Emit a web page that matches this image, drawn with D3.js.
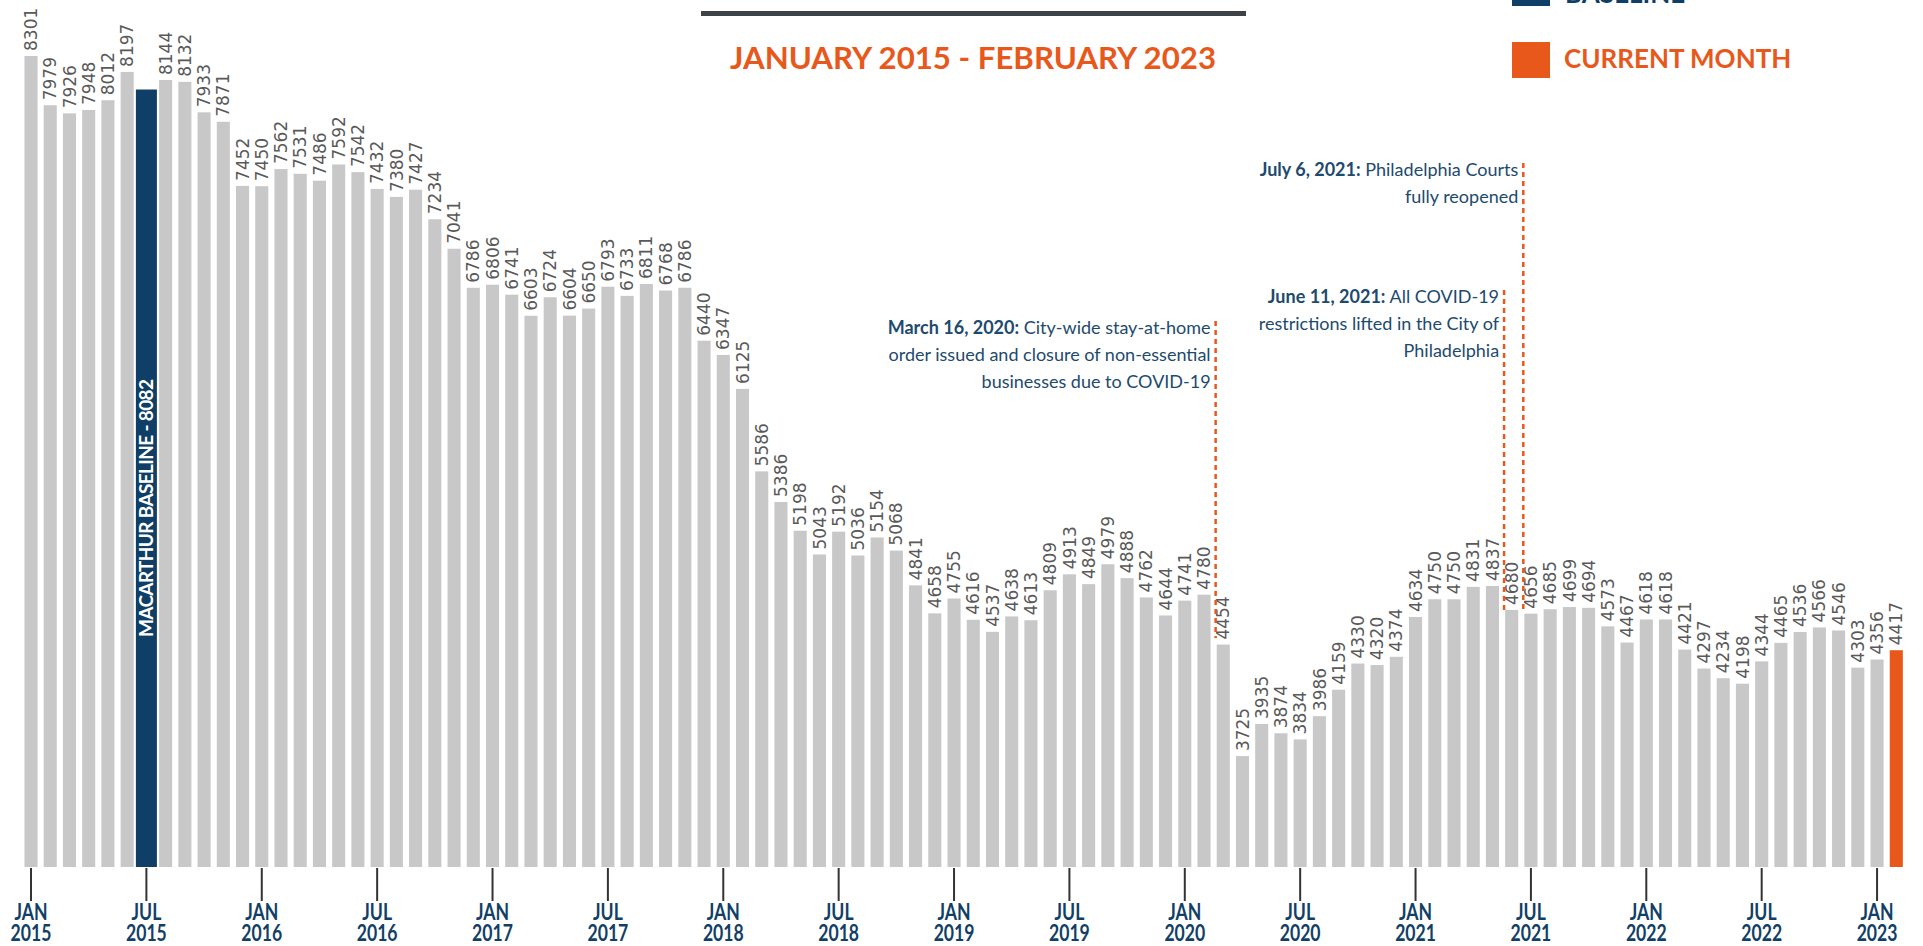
<!DOCTYPE html>
<meta charset="utf-8">
<style>
html, body {
  margin: 0;
  overflow: hidden;
  width: 100%;
  height: 100%;
  background: #fff;
}
text {
  font-family: Lato, "Open Sans", sans-serif;
}
.value {
  font-family: "DejaVu Sans", sans-serif;
  font-size: 17px;
  fill: #595959;
}
.note {
  font-size: 18px;
  fill: #1d4a6e;
}
.tick-label {
  font-weight: 700;
  font-size: 22px;
  fill: #123f66;
}
</style>
<title>Philadelphia jail population</title>
<body>
<script src="https://cdn.jsdelivr.net/npm/d3@7"></script>
<script>
// monthly values, Jan 2015 - Feb 2023
var values2015 = [8301, 7979, 7926, 7948, 8012, 8197, 8082, 8144, 8132, 7933, 7871, 7452];
var values2016 = [7450, 7562, 7531, 7486, 7592, 7542, 7432, 7380, 7427, 7234, 7041, 6786];
var values2017 = [6806, 6741, 6603, 6724, 6604, 6650, 6793, 6733, 6811, 6768, 6786, 6440];
var values2018 = [6347, 6125, 5586, 5386, 5198, 5043, 5192, 5036, 5154, 5068, 4841, 4658];
var values2019 = [4755, 4616, 4537, 4638, 4613, 4809, 4913, 4849, 4979, 4888, 4762, 4644];
var values2020 = [4741, 4780, 4454, 3725, 3935, 3874, 3834, 3986, 4159, 4330, 4320, 4374];
var values2021 = [4634, 4750, 4750, 4831, 4837, 4680, 4656, 4685, 4699, 4694, 4573, 4467];
var values2022 = [4618, 4618, 4421, 4297, 4234, 4198, 4344, 4465, 4536, 4566, 4546, 4303];
var values2023 = [4356, 4417];

var tickMonths = ["JAN", "JUL"];
var tickYears = ["2015", "2016", "2017", "2018", "2019", "2020", "2021", "2022", "2023"];

var baselineIndex = 6,   // Jul 2015
    baselineLabel = "MACARTHUR BASELINE - 8082";

// events: dashed line sits between bar i-1 and bar i
var events = [
  {i: 62, top: 321, bottom: 638, bold: "March 16, 2020:",
   lines: [" City-wide stay-at-home", "order issued and closure of non-essential", "businesses due to COVID-19"]},
  {i: 77, top: 290, bottom: 610, bold: "June 11, 2021:",
   lines: [" All COVID-19", "restrictions lifted in the City of", "Philadelphia"]},
  {i: 78, top: 163, bottom: 612, bold: "July 6, 2021:",
   lines: [" Philadelphia Courts", "fully reopened"]}
];

var values = [].concat(values2015, values2016, values2017, values2018, values2019,
                       values2020, values2021, values2022, values2023);

var width = 1923,
    height = 946,
    base = 867;

var grey = "#c8c8c8",
    navy = "#0f3f66",
    orange = "#e8581a";

var svg = d3.select("body").append("svg")
    .attr("width", width)
    .attr("height", height);

var x = d3.scaleBand()
    .domain(d3.range(values.length))
    .range([21.4, 1905.9])
    .paddingInner(0.32)
    .paddingOuter(0.16);

var y = d3.scaleLinear()
    .domain([3000, 8301])
    .range([base, 56]);

var bw = x.bandwidth();

function cx(i) { return x(i) + bw / 2; }

// bars
svg.append("g").selectAll("rect")
  .data(values)
  .enter().append("rect")
    .attr("x", function(d, i) { return i == baselineIndex ? cx(i) - 10.5 : x(i); })
    .attr("width", function(d, i) { return i == baselineIndex ? 21 : bw; })
    .attr("y", function(d) { return y(d); })
    .attr("height", function(d) { return base - y(d); })
    .attr("fill", function(d, i) {
      if (i == baselineIndex) return navy;
      if (i == values.length - 1) return orange;
      return grey;
    });

// value labels (none above the baseline bar)
var labelled = values.map(function(v, i) { return {v: v, i: i}; })
    .filter(function(d) { return d.i != baselineIndex; });

svg.append("g").selectAll("text")
  .data(labelled)
  .enter().append("text")
    .attr("class", "value")
    .attr("transform", function(d) { return "translate(" + cx(d.i) + "," + (y(d.v) - 5) + ") rotate(-90)"; })
    .attr("dy", "0.36em")
    .text(function(d) { return d.v; });

// baseline label inside the navy bar
svg.append("text")
    .attr("transform", "translate(" + cx(baselineIndex) + ",508) rotate(-90)")
    .attr("text-anchor", "middle")
    .attr("dy", "0.36em")
    .attr("fill", "#fff")
    .attr("font-weight", 700)
    .attr("font-size", "19px")
    .attr("textLength", 258)
    .attr("lengthAdjust", "spacing")
    .text(baselineLabel);

// x axis ticks every six months
var ticks = d3.range(0, values.length, 6);
var tg = svg.append("g").selectAll("g")
  .data(ticks)
  .enter().append("g");

tg.append("line")
    .attr("x1", function(d) { return cx(d); })
    .attr("x2", function(d) { return cx(d); })
    .attr("y1", base + 1)
    .attr("y2", 901)
    .attr("stroke", "#333")
    .attr("stroke-width", 2);

var lab = tg.append("text")
    .attr("class", "tick-label")
    .attr("text-anchor", "middle")
    .attr("transform", function(d) { return "translate(" + cx(d) + ",0) scale(0.8,1)"; });
lab.append("tspan")
    .attr("x", 0)
    .attr("y", 920)
    .text(function(d) { return tickMonths[(d / 6) % 2]; });
lab.append("tspan")
    .attr("x", 0)
    .attr("y", 941)
    .text(function(d) { return tickYears[Math.floor(d / 12)]; });

// event annotations
events.forEach(function(e) {
  var lx = (cx(e.i - 1) + cx(e.i)) / 2 + 2;
  svg.append("line")
      .attr("x1", lx).attr("x2", lx)
      .attr("y1", e.top).attr("y2", e.bottom)
      .attr("stroke", orange)
      .attr("stroke-width", 2.5)
      .attr("stroke-dasharray", "5,4");

  var t = svg.append("text")
      .attr("class", "note")
      .attr("text-anchor", "end");
  e.lines.forEach(function(line, k) {
    var ts = t.append("tspan")
        .attr("x", lx - 5)
        .attr("y", e.top + 13 + k * 27);
    if (k == 0) {
      ts.append("tspan").attr("font-weight", 700).text(e.bold);
      ts.append("tspan").text(line);
    } else {
      ts.text(line);
    }
  });
});

// heading
svg.append("rect")
    .attr("x", 701).attr("y", 11)
    .attr("width", 545).attr("height", 5)
    .attr("fill", "#3d4247");

svg.append("text")
    .attr("x", 973)
    .attr("y", 69)
    .attr("text-anchor", "middle")
    .attr("fill", orange)
    .attr("font-weight", 700)
    .attr("font-size", "30px")
    .attr("textLength", 486)
    .attr("lengthAdjust", "spacingAndGlyphs")
    .text("JANUARY 2015 - FEBRUARY 2023");

// legend
svg.append("rect")
    .attr("x", 1512).attr("y", -30)
    .attr("width", 38).attr("height", 36)
    .attr("fill", navy);
svg.append("text")
    .attr("x", 1565).attr("y", 3)
    .attr("fill", navy)
    .attr("font-weight", 700)
    .attr("font-size", "26px")
    .text("BASELINE");

svg.append("rect")
    .attr("x", 1512).attr("y", 42)
    .attr("width", 38).attr("height", 36)
    .attr("fill", orange);
svg.append("text")
    .attr("x", 1564).attr("y", 68)
    .attr("fill", orange)
    .attr("font-weight", 700)
    .attr("font-size", "26px")
    .text("CURRENT MONTH");
</script>
</body>
